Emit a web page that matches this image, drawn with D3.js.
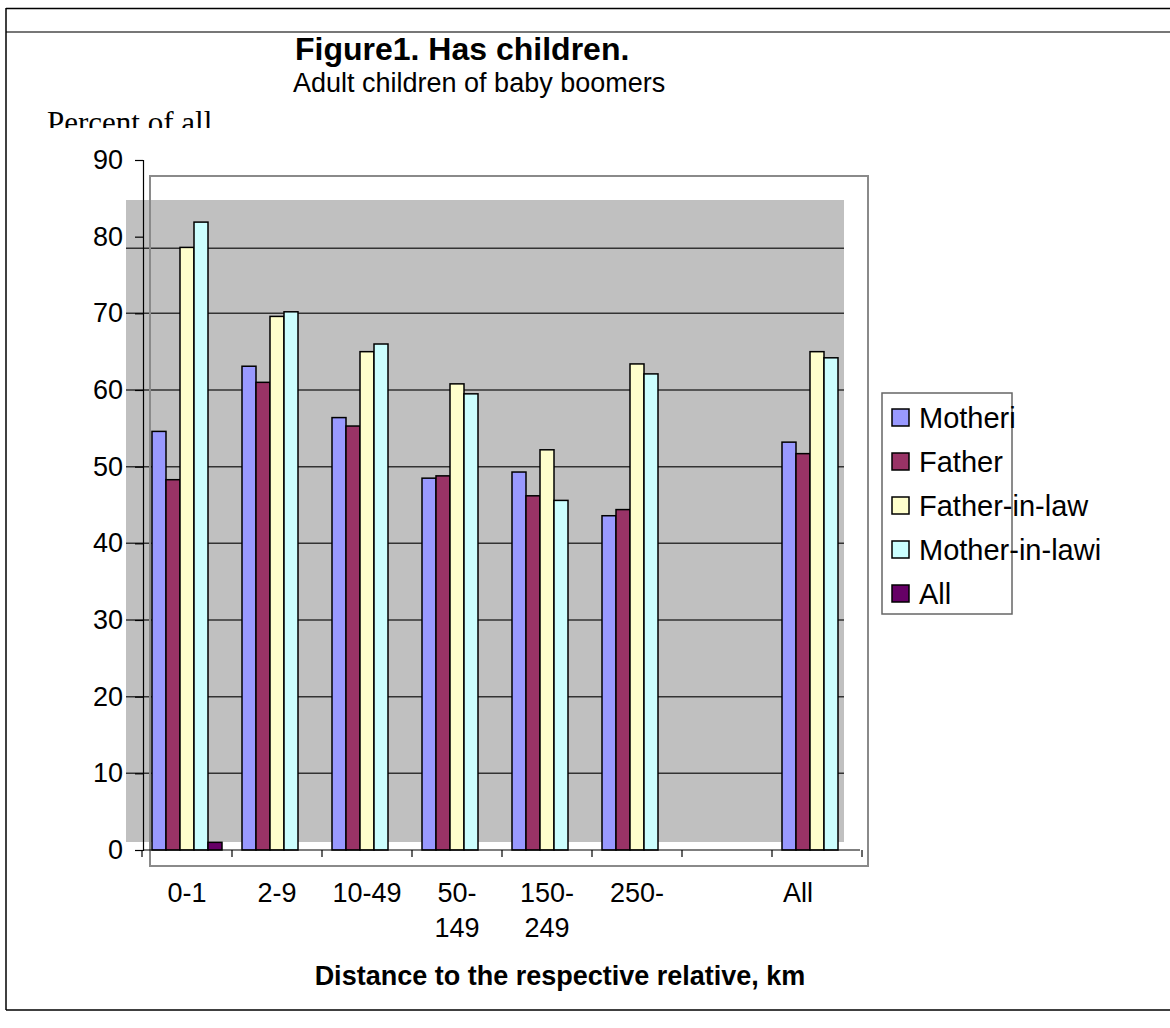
<!DOCTYPE html>
<html>
<head>
<meta charset="utf-8">
<script src="https://cdn.jsdelivr.net/npm/d3@7"></script>
<style>
  body { margin: 0; background: #fff; }
  text { font-family: Arial, "Liberation Sans", sans-serif; }
</style>
</head>
<body>
<svg id="svg" width="1170" height="1028"></svg>
<script>
// distance groups (one blank slot before "All", as in the original sheet)
var categories = ["0-1", "2-9", "10-49", "50-149", "150-249", "250-", "", "All"];
var catLabels = [["0-1"], ["2-9"], ["10-49"], ["50-", "149"], ["150-", "249"], ["250-"], [""], ["All"]];

var seriesNames = ["Motheri", "Father", "Father-in-law", "Mother-in-lawi", "All"];
var seriesColors = ["#9999ff", "#993366", "#ffffcc", "#ccffff", "#660066"];

var motheri     = [54.6, 63.1, 56.4, 48.5, 49.3, 43.6, null, 53.2];
var father      = [48.3, 61.0, 55.3, 48.8, 46.2, 44.4, null, 51.7];
var fatherInLaw = [78.6, 69.6, 65.0, 60.8, 52.2, 63.4, null, 65.0];
var motherInLaw = [81.9, 70.2, 66.0, 59.5, 45.6, 62.1, null, 64.2];
var allSeries   = [1.0, null, null, null, null, null, null, null];

var yTicks = [0, 10, 20, 30, 40, 50, 60, 70, 80, 90];
// gridlines as they sit in the picture (the top one is drawn a bit below 80)
var gridValues = [10, 20, 30, 40, 50, 60, 70, 78.5];

var seriesValues = [motheri, father, fatherInLaw, motherInLaw, allSeries];

var svg = d3.select("#svg");

// page frame
svg.append("line").attr("x1", 6).attr("x2", 1170).attr("y1", 8.5).attr("y2", 8.5)
    .attr("stroke", "#000").attr("stroke-width", 1.5);
svg.append("line").attr("x1", 6).attr("x2", 1170).attr("y1", 32).attr("y2", 32)
    .attr("stroke", "#777").attr("stroke-width", 2);
svg.append("line").attr("x1", 6).attr("x2", 6).attr("y1", 8).attr("y2", 1010)
    .attr("stroke", "#000").attr("stroke-width", 1.5);
svg.append("line").attr("x1", 6).attr("x2", 1170).attr("y1", 1010).attr("y2", 1010)
    .attr("stroke", "#000").attr("stroke-width", 1.5);

// titles
svg.append("text").attr("x", 295).attr("y", 60)
    .attr("font-size", 32).attr("font-weight", "bold").attr("fill", "#000")
    .text("Figure1. Has children.");
svg.append("text").attr("x", 293).attr("y", 92)
    .attr("font-size", 27).attr("fill", "#000")
    .text("Adult children of baby boomers");

// y axis title, cut off at the bottom like the original
svg.append("clipPath").attr("id", "ytclip")
    .append("rect").attr("x", 0).attr("y", 95).attr("width", 400).attr("height", 33);
svg.append("text").attr("x", 47).attr("y", 133)
    .attr("clip-path", "url(#ytclip)")
    .attr("font-size", 31).attr("fill", "#000")
    .style("font-family", "'Times New Roman', 'Liberation Serif', serif")
    .text("Percent of all");

var x = d3.scaleBand().domain(categories).range([142, 862]).padding(0);
var xs = d3.scaleBand().domain(seriesNames).range([10, 80]).padding(0);
var y = d3.scaleLinear().domain([0, 90]).range([850, 160]);

// gray plot area
svg.append("rect").attr("x", 126).attr("y", 200).attr("width", 718).attr("height", 642)
    .attr("fill", "#c0c0c0");

// gridlines
svg.selectAll("line.grid")
    .data(gridValues)
    .enter().append("line")
    .attr("class", "grid")
    .attr("x1", 126).attr("x2", 844)
    .attr("y1", function(d) { return y(d); })
    .attr("y2", function(d) { return y(d); })
    .attr("stroke", "#333").attr("stroke-width", 1.5);

// outer plot frame
svg.append("rect").attr("x", 150).attr("y", 176).attr("width", 718).attr("height", 690)
    .attr("fill", "none").attr("stroke", "#8a8a8a").attr("stroke-width", 2);

// bars
var groups = svg.selectAll("g.series")
    .data(seriesValues)
    .enter().append("g")
    .attr("class", "series")
    .attr("fill", function(d, i) { return seriesColors[i]; });

groups.each(function(vals, si) {
    d3.select(this).selectAll("rect")
        .data(vals.map(function(v, ci) { return { v: v, c: categories[ci] }; })
                  .filter(function(d) { return d.v != null; }))
        .enter().append("rect")
        .attr("x", function(d) { return x(d.c) + xs(seriesNames[si]); })
        .attr("width", xs.bandwidth())
        .attr("y", function(d) { return y(d.v); })
        .attr("height", function(d) { return y(0) - y(d.v); })
        .attr("stroke", "#000").attr("stroke-width", 1.5);
});

// y axis
var yAxis = d3.axisLeft(y).tickValues(yTicks).tickSize(8).tickPadding(12);
var yg = svg.append("g").attr("transform", "translate(143,0)").call(yAxis);
yg.select(".domain").attr("stroke", "#000").attr("stroke-width", 1.2);
yg.selectAll(".tick line").attr("stroke", "#000").attr("stroke-width", 1.2);
yg.selectAll(".tick text")
    .attr("font-size", 27).attr("fill", "#000")
    .style("font-family", "Arial, 'Liberation Sans', sans-serif");

// x axis: ticks on category boundaries
var boundaries = categories.map(function(c) { return x(c); }).concat([x.range()[1]]);
svg.append("line").attr("x1", 143).attr("x2", 860).attr("y1", y(0)).attr("y2", y(0))
    .attr("stroke", "#000").attr("stroke-width", 1.2);
svg.selectAll("line.xtick")
    .data(boundaries)
    .enter().append("line")
    .attr("class", "xtick")
    .attr("x1", function(d) { return d; }).attr("x2", function(d) { return d; })
    .attr("y1", y(0)).attr("y2", y(0) + 7)
    .attr("stroke", "#000").attr("stroke-width", 1.2);

// category labels ("All" sits left of its slot centre in the original)
var lab = svg.selectAll("text.xlab")
    .data(categories)
    .enter().append("text")
    .attr("class", "xlab")
    .attr("text-anchor", "middle")
    .attr("font-size", 27).attr("fill", "#000")
    .attr("y", 902);
lab.each(function(d, i) {
    var t = d3.select(this);
    var cx = x(d) + x.bandwidth() / 2 - (d === "All" ? 19 : 0);
    catLabels[i].forEach(function(line, li) {
        t.append("tspan")
            .attr("x", cx)
            .attr("dy", li === 0 ? 0 : 35)
            .text(line);
    });
});

// x axis title
svg.append("text").attr("x", 560).attr("y", 985)
    .attr("text-anchor", "middle")
    .attr("font-size", 27).attr("font-weight", "bold").attr("fill", "#000")
    .text("Distance to the respective relative, km");

// legend
var legend = svg.append("g").attr("transform", "translate(882,393)");
legend.append("rect").attr("x", 0).attr("y", 0).attr("width", 130).attr("height", 221)
    .attr("fill", "#fff").attr("stroke", "#666").attr("stroke-width", 1.5);
var items = legend.selectAll("g.item")
    .data(seriesNames)
    .enter().append("g")
    .attr("class", "item")
    .attr("transform", function(d, i) { return "translate(10," + (16 + i * 44) + ")"; });
items.append("rect").attr("width", 17).attr("height", 17)
    .attr("fill", function(d, i) { return seriesColors[i]; })
    .attr("stroke", "#000").attr("stroke-width", 1.5);
items.append("text").attr("x", 27).attr("y", 19)
    .attr("font-size", 29).attr("fill", "#000")
    .text(function(d) { return d; });
</script>
</body>
</html>
